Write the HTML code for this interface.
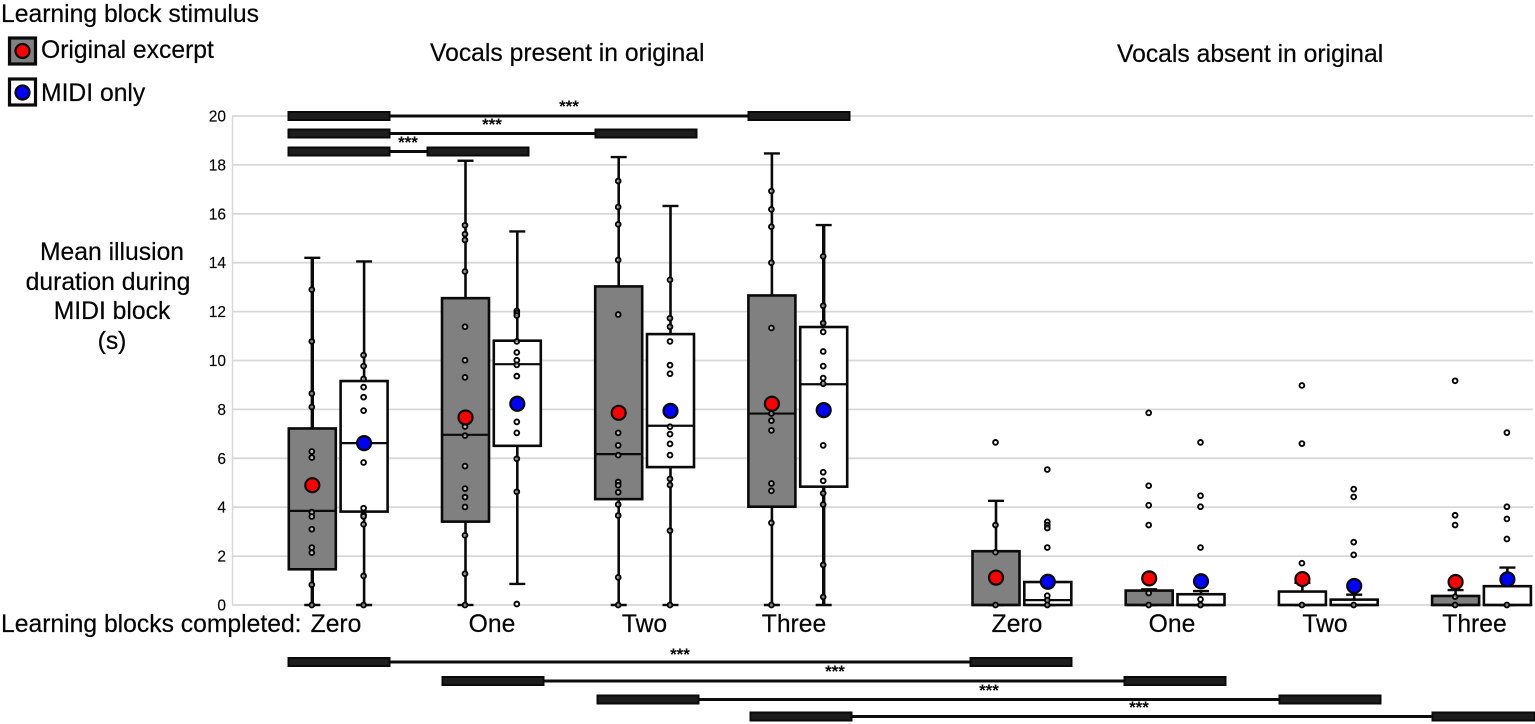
<!DOCTYPE html>
<html>
<head>
<meta charset="utf-8">
<title>Mean illusion duration boxplots</title>
<style>
html,body{margin:0;padding:0;background:#fff;}
svg{display:block;filter:blur(0.35px);}
text{font-family:"Liberation Sans",Arial,sans-serif;fill:#050505;}
.big{font-size:24.7px;stroke:#050505;stroke-width:0.2px;}
.tick{font-size:15.5px;text-anchor:end;stroke:#050505;stroke-width:0.15px;}
.star{font-size:17px;font-weight:bold;text-anchor:middle;}
.ln{stroke:#0c0c0c;stroke-width:3;}
.bar{fill:#1d1d1d;stroke:#0a0a0a;stroke-width:2;}
</style>
</head>
<body>
<svg id="chart" xmlns="http://www.w3.org/2000/svg" width="1535" height="724" viewBox="0 0 1535 724">
  <rect width="1535" height="724" fill="#fff"/>
  <g id="grid"></g>
  <line x1="232.5" y1="116" x2="232.5" y2="605" stroke="#d8d8d8" stroke-width="1.5"/>
  <g id="marks"></g>

  <text class="big" x="1" y="22">Learning block stimulus</text>
  <g>
    <rect x="9.5" y="38" width="26" height="26" fill="#808080" stroke="#0a0a0a" stroke-width="3.2"/>
    <circle cx="22.5" cy="51" r="7" fill="#ff0000" stroke="#0a0a0a" stroke-width="2.2"/>
    <text class="big" x="41" y="58">Original excerpt</text>
  </g>
  <g>
    <rect x="9.5" y="79" width="26" height="26" fill="#fff" stroke="#0a0a0a" stroke-width="3.2"/>
    <circle cx="22.5" cy="92.5" r="7" fill="#0000ff" stroke="#0a0a0a" stroke-width="2.2"/>
    <text class="big" x="41" y="101">MIDI only</text>
  </g>
  <text class="big" x="430" y="61">Vocals present in original</text>
  <text class="big" x="1117" y="62">Vocals absent in original</text>

  <g text-anchor="middle">
    <text class="big" x="112" y="260">Mean illusion</text>
    <text class="big" x="108" y="290">duration during</text>
    <text class="big" x="112" y="319">MIDI block</text>
    <text class="big" x="112" y="349">(s)</text>
  </g>
  <text class="big" x="1" y="632">Learning blocks completed:</text>

  <g text-anchor="middle">
    <text class="big" x="336" y="632">Zero</text>
    <text class="big" x="492" y="632">One</text>
    <text class="big" x="644.5" y="632">Two</text>
    <text class="big" x="794" y="632">Three</text>
    <text class="big" x="1017" y="632">Zero</text>
    <text class="big" x="1172" y="632">One</text>
    <text class="big" x="1325" y="632">Two</text>
    <text class="big" x="1474.5" y="632">Three</text>
  </g>

  <g>
    <line class="ln" x1="389" y1="116" x2="749" y2="116"/>
    <rect class="bar" x="288.5" y="112" width="101" height="8"/>
    <rect class="bar" x="748.5" y="112" width="101" height="8"/>
    <text class="star" x="569" y="112">***</text>
  </g>
  <g>
    <line class="ln" x1="389" y1="133.5" x2="596" y2="133.5"/>
    <rect class="bar" x="288.5" y="129.5" width="101" height="8"/>
    <rect class="bar" x="595.5" y="129.5" width="101" height="8"/>
    <text class="star" x="492" y="130">***</text>
  </g>
  <g>
    <line class="ln" x1="389" y1="151.5" x2="428" y2="151.5"/>
    <rect class="bar" x="288.5" y="147.5" width="101" height="8"/>
    <rect class="bar" x="427.5" y="147.5" width="101" height="8"/>
    <text class="star" x="408" y="148">***</text>
  </g>
  <g>
    <line class="ln" x1="389" y1="662" x2="971" y2="662"/>
    <rect class="bar" x="288.5" y="658" width="101" height="8"/>
    <rect class="bar" x="970.5" y="658" width="101" height="8"/>
    <text class="star" x="680" y="660">***</text>
  </g>
  <g>
    <line class="ln" x1="543" y1="681" x2="1125" y2="681"/>
    <rect class="bar" x="442.5" y="677" width="101" height="8"/>
    <rect class="bar" x="1124.5" y="677" width="101" height="8"/>
    <text class="star" x="835" y="677">***</text>
  </g>
  <g>
    <line class="ln" x1="698" y1="699.5" x2="1280" y2="699.5"/>
    <rect class="bar" x="597.5" y="695.5" width="101" height="8"/>
    <rect class="bar" x="1279.5" y="695.5" width="101" height="8"/>
    <text class="star" x="989" y="696">***</text>
  </g>
  <g>
    <line class="ln" x1="851" y1="716.5" x2="1433" y2="716.5"/>
    <rect class="bar" x="750.5" y="712.5" width="101" height="8"/>
    <rect class="bar" x="1432.5" y="712.5" width="102" height="8"/>
    <text class="star" x="1139" y="713">***</text>
  </g>
</svg>
<script>
// Data: order is panel (present, absent) > block (Zero..Three) > stimulus (original, MIDI)
const yTicks = [0,2,4,6,8,10,12,14,16,18,20];
const blockLabels = ['Zero','One','Two','Three'];
const stimulusKinds = ['original','midi'];
const q1Values = [1.46,3.82, 3.41,6.51, 4.33,5.64, 4.02,4.84, 0,0, 0,0, 0,0, 0,0];
const medianValues = [3.85,6.62, 6.96,9.85, 6.17,7.33, 7.83,9.03, 0,0.2, 0,0, 0,0, 0,0];
const q3Values = [7.22,9.16, 12.55,10.81, 13.03,11.08, 12.66,11.37, 2.2,0.94, 0.59,0.44, 0.55,0.22, 0.37,0.77];
const whiskerLowValues = [0,0, 0,0.86, 0,0, 0,0, 0,0, 0,0, 0,0, 0,0];
const whiskerHighValues = [14.2,14.05, 18.17,15.28, 18.32,16.32, 18.47,15.54, 4.26,0.94, 0.64,0.57, 0.91,0.42, 0.61,1.53];
const meanValues = [4.9,6.62, 7.67,8.23, 7.86,7.94, 8.23,7.97, 1.12,0.95, 1.09,0.97, 1.06,0.78, 0.94,1.05];
const boxFilled = [1,0, 1,0, 1,0, 1,0, 1,0, 1,0, 0,0, 1,0];
const pointValues = [
  [12.9,10.78,8.65,8.1,6.28,6.03,3.8,3.62,3.1,2.35,2.14,0.83,0],
  [10.22,9.77,9.25,8.91,8.5,7.95,5.83,3.96,3.68,3.62,3.3,1.19,0],
  [15.53,15.17,14.93,13.64,11.38,10.01,9.31,7.3,6.93,5.68,4.76,4.41,4.01,2.85,1.28,0],
  [12.03,11.94,11.84,10.78,10.33,10.01,9.82,9.36,7.49,7.04,5.98,4.63,0.04],
  [17.34,16.28,15.57,14.11,11.88,7.04,6.53,6.13,5.03,4.9,4.61,4.11,3.66,1.13,0],
  [13.3,11.73,11.38,10.78,9.81,9.46,7.29,6.99,6.59,6.13,5.16,4.91,3.04,0],
  [16.93,16.18,15.47,14,11.33,7.83,7.54,7.14,4.97,4.67,3.36,0],
  [14.26,12.24,11.53,11.17,10.37,9.77,9.28,9.05,6.53,5.43,5.08,4.57,4.11,1.64,0.33],
  [6.65,3.27,2.16,0],
  [5.54,3.4,3.27,3.15,2.35,0.38,0.2,0],
  [7.86,4.88,4.08,3.27,0.49,0],
  [6.65,4.47,4.02,2.35,0.23,0],
  [8.98,6.6,1.71,0],
  [4.74,4.42,2.57,2.05,0],
  [9.17,3.67,3.27,0.34,0],
  [7.05,4.02,3.52,2.7,0]
];

// Axis functions
const NS = 'http://www.w3.org/2000/svg';
function y(v){ return 605 - v * 24.45; }
function x(index){
  const stim = index % 2;
  const block = Math.floor(index / 2) % 4;
  const panel = Math.floor(index / 8);
  return (panel === 0 ? 312.3 : 996) + block * 153.2 + stim * 51.8;
}
function make(tag, attrs, parent){
  const el = document.createElementNS(NS, tag);
  for (const k in attrs) el.setAttribute(k, attrs[k]);
  parent.appendChild(el);
  return el;
}

const grid = document.getElementById('grid');
yTicks.forEach(function(t){
  const ln = make('line', {x1:232, x2:1533, y1:y(t), y2:y(t), stroke:'#d8d8d8', 'stroke-width':1.8}, grid);
  
  
  const lab = make('text', {x:226, y:y(t) + 5.5, class:'tick'}, grid);
  lab.textContent = t;
  
  
});

const marks = document.getElementById('marks');
q1Values.forEach(function(q1, i){
  const cx = x(i);
  const kind = stimulusKinds[i % 2];
  const panelName = i < 8 ? 'present' : 'absent';
  const blockName = blockLabels[Math.floor(i / 2) % 4].toLowerCase();
  const g = make('g', {}, marks);
  
  

  const stem = make('line', {x1:cx, x2:cx, y1:y(whiskerHighValues[i]), y2:y(whiskerLowValues[i]), stroke:'#0a0a0a', 'stroke-width':(i === 0 || i === 7) ? 3.4 : 2.6}, g);
  
  
  const capHi = make('line', {x1:cx - 8, x2:cx + 8, y1:y(whiskerHighValues[i]), y2:y(whiskerHighValues[i]), stroke:'#0a0a0a', 'stroke-width':2.4}, g);
  
  
  const capLo = make('line', {x1:cx - 8, x2:cx + 8, y1:y(whiskerLowValues[i]), y2:y(whiskerLowValues[i]), stroke:'#0a0a0a', 'stroke-width':2.4}, g);
  
  

  const box = make('rect', {x:cx - 23.5, width:47, y:y(q3Values[i]), height:y(q1) - y(q3Values[i]),
    fill: boxFilled[i] ? '#808080' : '#ffffff', stroke:'#0a0a0a', 'stroke-width':2.6}, g);
  
  
  const med = make('line', {x1:cx - 23.5, x2:cx + 23.5, y1:y(medianValues[i]), y2:y(medianValues[i]), stroke:'#0a0a0a', 'stroke-width':2.2}, g);
  
  

  pointValues[i].forEach(function(v){
    const p = make('circle', {cx:cx - 0.5, cy:y(v), r:2.4, fill:'#ffffff', 'fill-opacity':0.5, stroke:'#050505', 'stroke-width':1.9}, g);
    
    
  });

  const mean = make('circle', {cx:cx, cy:y(meanValues[i]), r:7, fill: i % 2 ? '#0000ff' : '#ff0000', stroke:'#0a0a0a', 'stroke-width':2.2}, g);
  
  
});
</script>
</body>
</html>
